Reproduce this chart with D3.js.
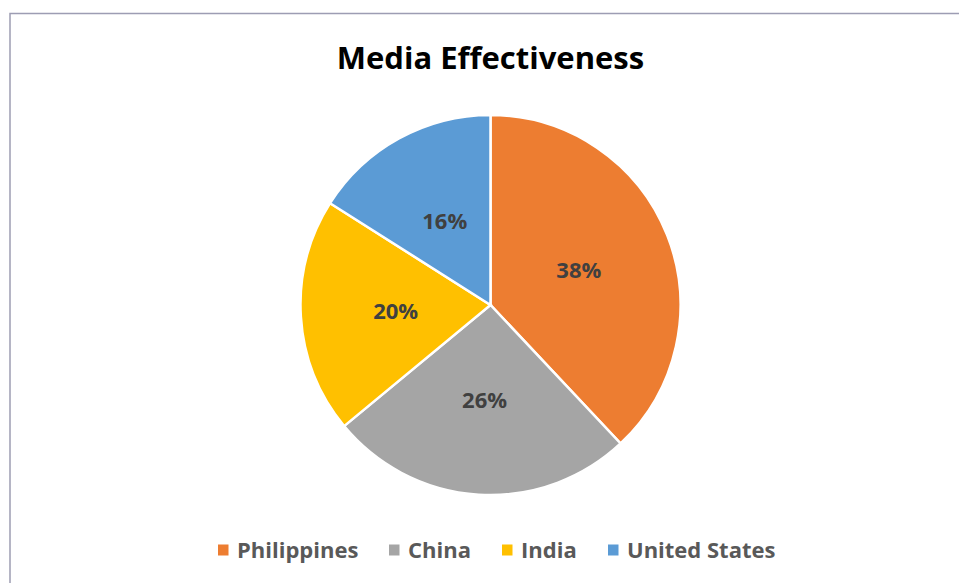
<!DOCTYPE html>
<html>
<head>
<meta charset="utf-8">
<script src="https://cdn.jsdelivr.net/npm/d3@7"></script>
<style>
  body { margin: 0; background: #fff; }
  svg { display: block; }
</style>
</head>
<body>
<script>
// Data
const categories = ["Philippines", "China", "India", "United States"];
const shares = [38, 26, 20, 16];
const colors = ["#ED7D31", "#A5A5A5", "#FFC000", "#5B9BD5"];
const title = "Media Effectiveness";

const width = 959, height = 583;
const cx = 490.5, cy = 305, radius = 190;
const font = "'Open Sans', Lato, sans-serif";

const svg = d3.select("body").append("svg")
  .attr("width", width)
  .attr("height", height);

// chart frame (only top and left visible in the crop)
svg.append("path")
  .attr("d", `M10,${height} V13.5 H${width}`)
  .attr("fill", "none")
  .attr("stroke", "#9d9db3")
  .attr("stroke-width", 1.5);

svg.append("text")
  .attr("x", cx)
  .attr("y", 69)
  .attr("text-anchor", "middle")
  .attr("font-family", font)
  .attr("font-weight", "bold")
  .attr("font-size", 31)
  .attr("fill", "#000")
  .text(title);

const data = categories.map((c, i) => ({ name: c, value: shares[i], color: colors[i] }));

const pie = d3.pie().sort(null).value(d => d.value);
const arc = d3.arc().innerRadius(0).outerRadius(radius);

const g = svg.append("g").attr("transform", `translate(${cx},${cy})`);

const arcs = pie(data);

g.selectAll("path.slice")
  .data(arcs)
  .join("path")
  .attr("class", "slice")
  .attr("d", arc)
  .attr("fill", d => d.data.color)
  .attr("stroke", "#fff")
  .attr("stroke-width", 2.5);

g.selectAll("text.pct")
  .data(arcs)
  .join("text")
  .attr("class", "pct")
  .attr("transform", d => `translate(${arc.centroid(d)})`)
  .attr("text-anchor", "middle")
  .attr("dy", "0.35em")
  .attr("font-family", font)
  .attr("font-weight", "bold")
  .attr("font-size", 22)
  .attr("fill", "#404040")
  .text(d => d.data.value + "%");

// Legend
const legendX = [218, 389, 502, 608];
const legend = svg.append("g").attr("transform", "translate(0,550)");
const items = legend.selectAll("g")
  .data(data)
  .join("g")
  .attr("transform", (d, i) => `translate(${legendX[i]},0)`);

items.append("rect")
  .attr("x", 0).attr("y", -5.5)
  .attr("width", 10.5).attr("height", 11)
  .attr("fill", d => d.color);

items.append("text")
  .attr("x", 19)
  .attr("y", 8)
  .attr("font-family", font)
  .attr("font-weight", "bold")
  .attr("font-size", 22)
  .attr("fill", "#595959")
  .text(d => d.name);
</script>
</body>
</html>
